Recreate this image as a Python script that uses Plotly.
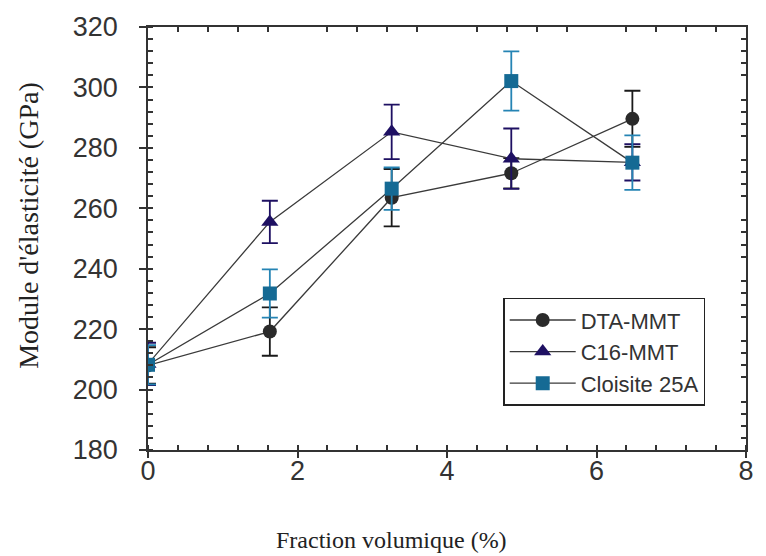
import plotly.graph_objects as go

# Volume fraction (%) of clay in each composite
fraction = [0, 1.63, 3.26, 4.86, 6.48]

# Elastic modulus (GPa) and its standard deviation per clay type
dta_mmt = [208, 219.2, 263.5, 271.6, 289.6]
dta_mmt_err = [6, 8, 9.5, 5, 9.3]

c16_mmt = [208.5, 255.5, 285.3, 276.4, 275.2]
c16_mmt_err = [7, 7, 9, 10, 6]

cloisite_25a = [208.2, 231.8, 266.5, 302.1, 275.1]
cloisite_25a_err = [6.5, 8, 7, 9.8, 9]

series = [
    ("DTA-MMT", dta_mmt, dta_mmt_err, "circle", 14, "#2a2a2a", "#1a1a1a"),
    ("C16-MMT", c16_mmt, c16_mmt_err, "triangle-up", 15, "#1e1062", "#1e1062"),
    ("Cloisite 25A", cloisite_25a, cloisite_25a_err, "square", 14, "#156a94", "#2584b4"),
]

fig = go.Figure()
for name, vals, errs, symbol, msize, mcolor, ecolor in series:
    fig.add_trace(go.Scatter(
        x=fraction, y=vals, name=name, mode="lines+markers",
        line=dict(color="#3a3a3a", width=1.3),
        marker=dict(symbol=symbol, size=msize, color=mcolor,
                    line=dict(width=0)),
        error_y=dict(type="data", array=errs, visible=True,
                     color=ecolor, thickness=1.8, width=8),
    ))

sans = "Liberation Sans, Arial, sans-serif"
serif = "Liberation Serif, Times New Roman, serif"
tick_font = dict(family=sans, size=27, color="#333333")
axis_col = "#333333"

fig.update_layout(
    width=766, height=556,
    margin=dict(l=148, r=13, t=19, b=106),
    paper_bgcolor="white", plot_bgcolor="white",
    showlegend=True,
    legend=dict(
        x=0.594, y=0.360, xanchor="left", yanchor="top",
        bgcolor="white", bordercolor="#222222", borderwidth=1.5,
        font=dict(family=sans, size=22, color="#333333"),
        tracegroupgap=0, itemwidth=66,
        entrywidth=195, entrywidthmode="pixels",
    ),
    xaxis=dict(
        range=[0, 8], dtick=2, tick0=0,
        showgrid=False, zeroline=False,
        showline=True, linecolor=axis_col, linewidth=1.5,
        ticks="outside", ticklen=6, tickwidth=1.5, tickcolor=axis_col,
        minor=dict(dtick=0.4, ticks="inside", ticklen=5, tickwidth=1.5, tickcolor=axis_col),
        tickfont=tick_font, ticklabelstandoff=-10,
    ),
    yaxis=dict(
        range=[180, 320], dtick=20, tick0=180,
        showgrid=False, zeroline=False,
        showline=True, linecolor=axis_col, linewidth=1.5,
        ticks="outside", ticklen=7, tickwidth=1.5, tickcolor=axis_col,
        minor=dict(dtick=4, ticks="inside", ticklen=5, tickwidth=1.5, tickcolor=axis_col),
        tickfont=tick_font, ticklabelstandoff=16,
    ),
    # Mirrored frame on top and right carrying only the inward minor ticks
    xaxis2=dict(
        overlaying="x", side="top", matches="x", range=[0, 8], dtick=2,
        showgrid=False, zeroline=False, showticklabels=False,
        showline=True, linecolor=axis_col, linewidth=1.5,
        ticks="",
        minor=dict(dtick=0.4, ticks="inside", ticklen=5, tickwidth=1.5, tickcolor=axis_col),
    ),
    yaxis2=dict(
        overlaying="y", side="right", matches="y", range=[180, 320], dtick=20,
        showgrid=False, zeroline=False, showticklabels=False,
        showline=True, linecolor=axis_col, linewidth=1.5,
        ticks="",
        minor=dict(dtick=4, ticks="inside", ticklen=5, tickwidth=1.5, tickcolor=axis_col),
    ),
    annotations=[
        dict(text="Fraction volumique (%)", xref="paper", yref="paper",
             x=0.4066, y=-0.213, xanchor="center", yanchor="middle",
             showarrow=False, font=dict(family=serif, size=24, color="#222222")),
        dict(text="Module d'élasticité (GPa)", xref="paper", yref="paper",
             x=-0.200, y=0.531, xanchor="center", yanchor="middle", textangle=-90,
             showarrow=False, font=dict(family=serif, size=28, color="#222222")),
    ],
)

# Invisible trace anchoring the mirrored axes
fig.add_trace(go.Scatter(x=[0, 8], y=[180, 320], xaxis="x2", yaxis="y2",
                         mode="markers", marker=dict(opacity=0),
                         showlegend=False, hoverinfo="skip"))

fig.write_html("out.html")
